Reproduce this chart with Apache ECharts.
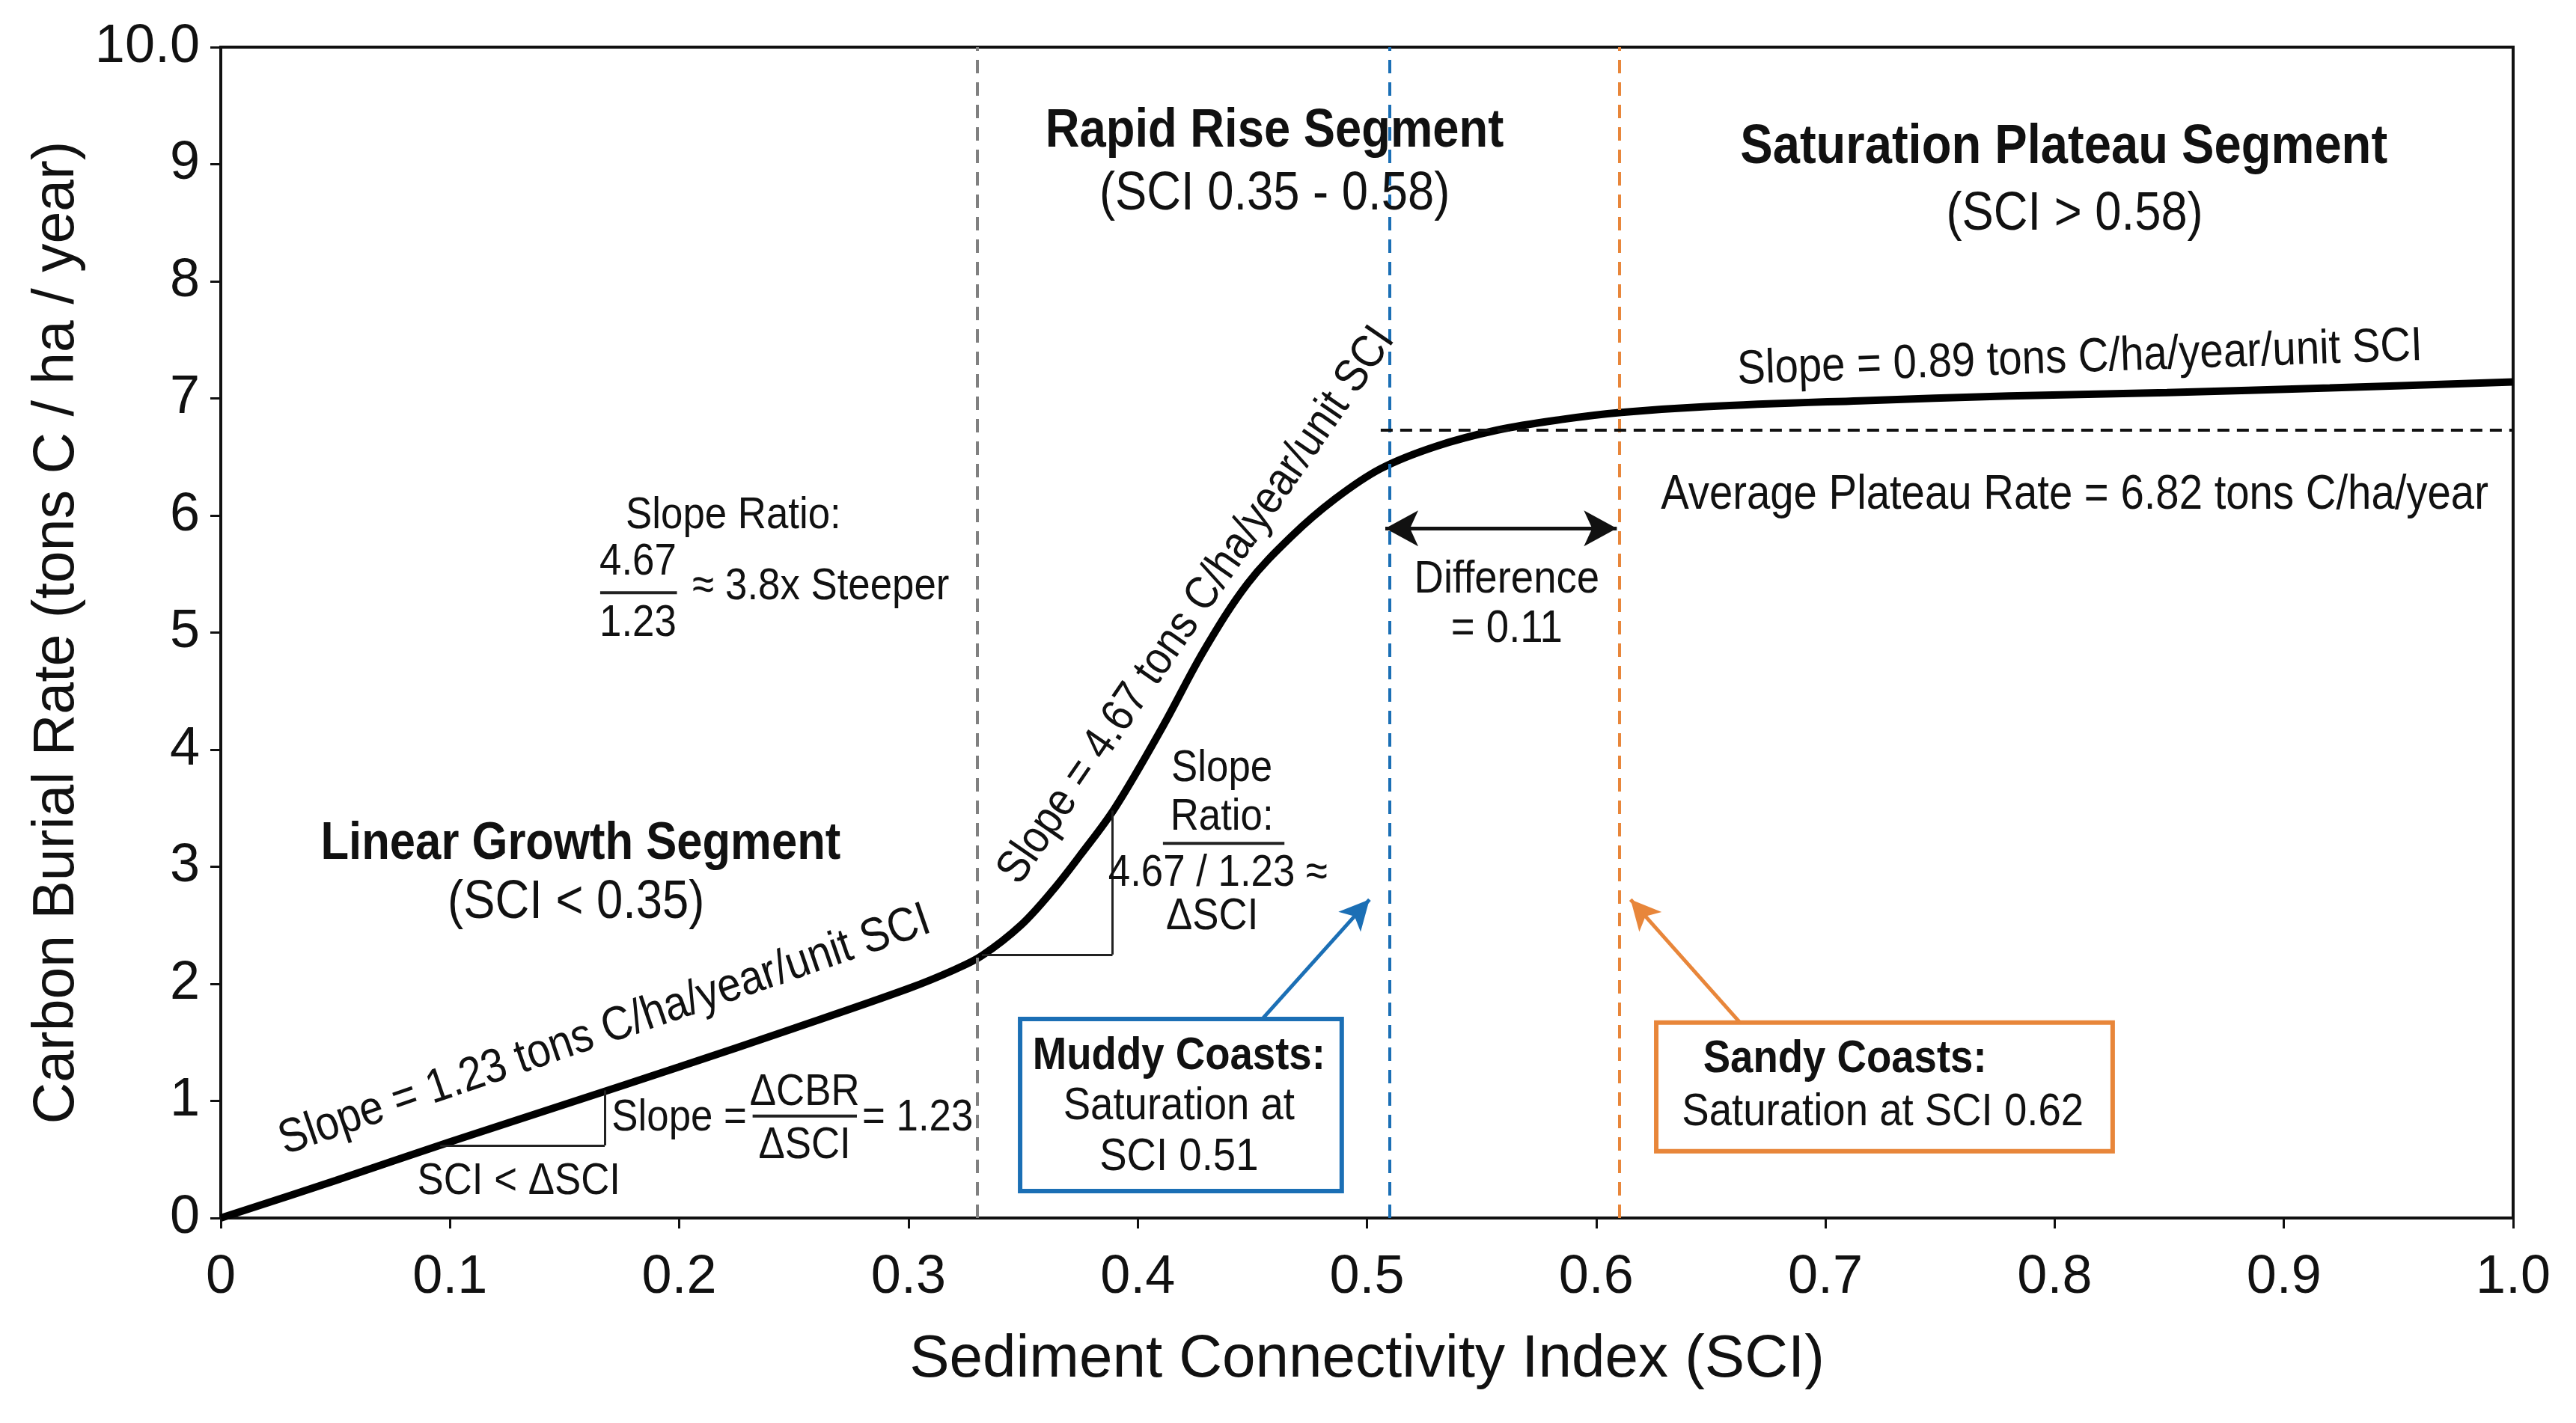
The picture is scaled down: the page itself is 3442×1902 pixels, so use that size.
<!DOCTYPE html>
<html lang="en">
    <head>
        <meta charset="UTF-8">
        <script src="https://cdn.jsdelivr.net/npm/echarts@6/dist/echarts.min.js"></script>
        <title>Carbon Burial Rate vs Sediment Connectivity Index</title>
        <style>
            html, body { margin: 0; padding: 0; background: #fff; }
        </style>
    </head>
    <body>
        <div id="chart-container" style="width: 3442px; height: 1902px;"></div>

        <script>
            // data
            const sci = [0, 0.05, 0.1, 0.15, 0.2, 0.25, 0.3, 0.32, 0.332, 0.349, 0.363, 0.375, 0.39, 0.411, 0.429, 0.448, 0.467, 0.486, 0.506, 0.53, 0.557, 0.585, 0.611, 0.648, 0.715, 0.78, 0.849, 0.92, 1.0];
            const cbr = [0, 0.32, 0.65, 0.97, 1.29, 1.62, 1.96, 2.12, 2.24, 2.5, 2.8, 3.1, 3.5, 4.2, 4.85, 5.42, 5.82, 6.14, 6.4, 6.59, 6.73, 6.82, 6.88, 6.93, 6.98, 7.02, 7.05, 7.09, 7.14];

            const xTicks = ['0', '0.1', '0.2', '0.3', '0.4', '0.5', '0.6', '0.7', '0.8', '0.9', '1.0'];
            const yTicks = ['0', '1', '2', '3', '4', '5', '6', '7', '8', '9', '10.0'];

            // segment boundaries and reference levels
            const linearEnd = 0.332;
            const muddySat = 0.506;
            const sandySat = 0.611;
            const plateauLevel = 6.73;
            const diffLevel = 5.89;

            const font = "'Liberation Sans', Arial, sans-serif";
            const blue = '#1b6fb5';
            const orange = '#e8863a';
            const squeeze = 0.88; // the annotations use a condensed face

            const chart = echarts.init(document.getElementById('chart-container'), null, { renderer: 'canvas' });

            function vline(x, color) {
                return {
                    type: 'line', data: [], silent: true,
                    markLine: {
                        silent: true, symbol: 'none', animation: false,
                        label: { show: false },
                        lineStyle: { color: color, width: 4, type: [18, 12] },
                        data: [{ xAxis: x }]
                    }
                };
            }

            function segs(pairs, style, symbol, symbolSize) {
                return {
                    type: 'line', data: [], silent: true,
                    markLine: {
                        silent: true, animation: false,
                        symbol: symbol || 'none', symbolSize: symbolSize || 0,
                        label: { show: false },
                        lineStyle: style,
                        data: pairs.map(p => [{ coord: p[0] }, { coord: p[1] }])
                    }
                };
            }

            const options = {
                animation: false,
                grid: { left: 295, right: 84, top: 63, bottom: 274, show: true, borderColor: '#111', borderWidth: 4 },
                xAxis: {
                    type: 'value', min: 0, max: 1, interval: 0.1,
                    name: 'Sediment Connectivity Index (SCI)', nameLocation: 'middle', nameGap: 150,
                    nameTextStyle: { fontFamily: font, fontSize: 80, color: '#111' },
                    axisLine: { lineStyle: { color: '#111', width: 4 } },
                    axisTick: { inside: false, length: 14, lineStyle: { color: '#111', width: 3 } },
                    axisLabel: { fontFamily: font, fontSize: 72, color: '#111', margin: 44,
                        formatter: v => xTicks[Math.round(v * 10)] },
                    splitLine: { show: false }
                },
                yAxis: {
                    type: 'value', min: 0, max: 10, interval: 1,
                    name: 'Carbon Burial Rate (tons C / ha / year)', nameLocation: 'middle', nameGap: 180,
                    nameTextStyle: { fontFamily: font, fontSize: 77, color: '#111' },
                    axisLine: { lineStyle: { color: '#111', width: 4 } },
                    axisTick: { inside: false, length: 14, lineStyle: { color: '#111', width: 3 } },
                    axisLabel: { fontFamily: font, fontSize: 72, color: '#111', margin: 28,
                        formatter: v => yTicks[Math.round(v)] },
                    splitLine: { show: false }
                },
                series: [
                    vline(linearEnd, '#808080'),
                    vline(muddySat, blue),
                    vline(sandySat, orange),
                    // average plateau rate
                    segs([[[muddySat, plateauLevel], [1, plateauLevel]]], { color: '#111', width: 4, type: [16, 10] }),
                    // slope triangles
                    segs([
                        [[0.0957, 0.62], [0.1675, 0.62]], [[0.1675, 0.62], [0.1675, 1.09]],
                        [[linearEnd, 2.25], [0.389, 2.25]], [[0.389, 2.25], [0.389, 3.48]]
                    ], { color: '#222', width: 3, type: 'solid' }),
                    // difference arrow
                    segs([[[muddySat + 0.002, diffLevel], [sandySat - 0.002, diffLevel]]],
                        { color: '#111', width: 5, type: 'solid' }, ['arrow', 'arrow'], [36, 44]),
                    // callout arrows
                    segs([[[0.4548, 1.71], [0.5011, 2.72]]], { color: blue, width: 5, type: 'solid' }, ['none', 'arrow'], [30, 40]),
                    segs([[[0.6627, 1.67], [0.615, 2.72]]], { color: orange, width: 5, type: 'solid' }, ['none', 'arrow'], [30, 40]),
                    {
                        type: 'line', name: 'Carbon Burial Rate',
                        data: sci.map((x, i) => [x, cbr[i]]),
                        showSymbol: false, smooth: 0.35, silent: true,
                        lineStyle: { color: '#000', width: 10 }
                    }
                ]
            };
            chart.setOption(options);

            // annotation texts, placed in data coordinates
            const labels = [
                { t: 'Linear Growth Segment', x: 0.157, y: 3.19, bold: true, size: 70 },
                { t: '(SCI < 0.35)', x: 0.155, y: 2.69, size: 72 },
                { t: 'Rapid Rise Segment', x: 0.4597, y: 9.28, bold: true, size: 72 },
                { t: '(SCI 0.35 - 0.58)', x: 0.4597, y: 8.74, size: 72 },
                { t: 'Saturation Plateau Segment', x: 0.804, y: 9.14, bold: true, size: 74 },
                { t: '(SCI > 0.58)', x: 0.8087, y: 8.57, size: 72 },
                { t: 'Slope = 1.23 tons C/ha/year/unit SCI', x: 0.1675, y: 1.6, size: 64, rot: 19 },
                { t: 'Slope =', x: 0.2, y: 0.856, size: 60 },
                { t: '\u0394CBR', x: 0.2547, y: 1.07, size: 60 },
                { t: '\u0394SCI', x: 0.2547, y: 0.62, size: 60 },
                { t: '= 1.23', x: 0.304, y: 0.856, size: 60 },
                { t: 'SCI < \u0394SCI', x: 0.130, y: 0.31, size: 60 },
                { t: 'Slope Ratio:', x: 0.2236, y: 6.0, size: 60 },
                { t: '4.67', x: 0.182, y: 5.6, size: 60 },
                { t: '1.23', x: 0.182, y: 5.08, size: 60 },
                { t: '\u2248 3.8x Steeper', x: 0.2618, y: 5.39, size: 60 },
                { t: 'Slope = 4.67 tons C/ha/year/unit SCI', x: 0.4257, y: 5.23, size: 62, rot: 55.5 },
                { t: 'Slope', x: 0.4367, y: 3.84, size: 60 },
                { t: 'Ratio:', x: 0.4367, y: 3.42, size: 60 },
                { t: '4.67 / 1.23 \u2248', x: 0.435, y: 2.94, size: 60 },
                { t: '\u0394SCI', x: 0.4325, y: 2.575, size: 60 },
                { t: 'Difference', x: 0.561, y: 5.45, size: 62 },
                { t: '= 0.11', x: 0.561, y: 5.03, size: 62 },
                { t: 'Slope = 0.89 tons C/ha/year/unit SCI', x: 0.811, y: 7.34, size: 64, rot: 2 },
                { t: 'Average Plateau Rate = 6.82 tons C/ha/year', x: 0.8087, y: 6.17, size: 64 },
                { t: 'Muddy Coasts:', x: 0.418, y: 1.38, bold: true, size: 62 },
                { t: 'Saturation at', x: 0.418, y: 0.95, size: 62 },
                { t: 'SCI 0.51', x: 0.418, y: 0.52, size: 62 },
                { t: 'Sandy Coasts:', x: 0.7085, y: 1.355, bold: true, size: 62 },
                { t: 'Saturation at SCI 0.62', x: 0.725, y: 0.9, size: 62 }
            ];

            // fraction bars [x0, x1, y]
            const bars = [
                [0.232, 0.2775, 0.87],
                [0.1655, 0.199, 5.34],
                [0.411, 0.464, 3.2]
            ];

            // callout boxes [x0, x1, yTop, yBottom, colour]
            const boxes = [
                [0.3487, 0.489, 1.7, 0.23, blue],
                [0.6262, 0.8253, 1.67, 0.57, orange]
            ];

            const px = (x, y) => chart.convertToPixel({ gridIndex: 0 }, [x, y]);
            const graphics = [];

            boxes.forEach(b => {
                const p0 = px(b[0], b[2]);
                const p1 = px(b[1], b[3]);
                graphics.push({
                    type: 'rect', z: 50,
                    shape: { x: p0[0], y: p0[1], width: p1[0] - p0[0], height: p1[1] - p0[1] },
                    style: { fill: '#fff', stroke: b[4], lineWidth: 6 }
                });
            });

            bars.forEach(b => {
                const p0 = px(b[0], b[2]);
                const p1 = px(b[1], b[2]);
                graphics.push({
                    type: 'line', z: 60,
                    shape: { x1: p0[0], y1: p0[1], x2: p1[0], y2: p1[1] },
                    style: { stroke: '#222', lineWidth: 4 }
                });
            });

            labels.forEach(l => {
                const p = px(l.x, l.y);
                graphics.push({
                    type: 'text', z: 60, x: p[0], y: p[1],
                    rotation: (l.rot || 0) * Math.PI / 180,
                    scaleX: squeeze,
                    style: {
                        text: l.t, fill: '#111', align: 'center', verticalAlign: 'middle',
                        font: (l.bold ? 'bold ' : '') + l.size + 'px ' + font
                    }
                });
            });

            chart.setOption({ graphic: graphics });
        </script>
    </body>
</html>
